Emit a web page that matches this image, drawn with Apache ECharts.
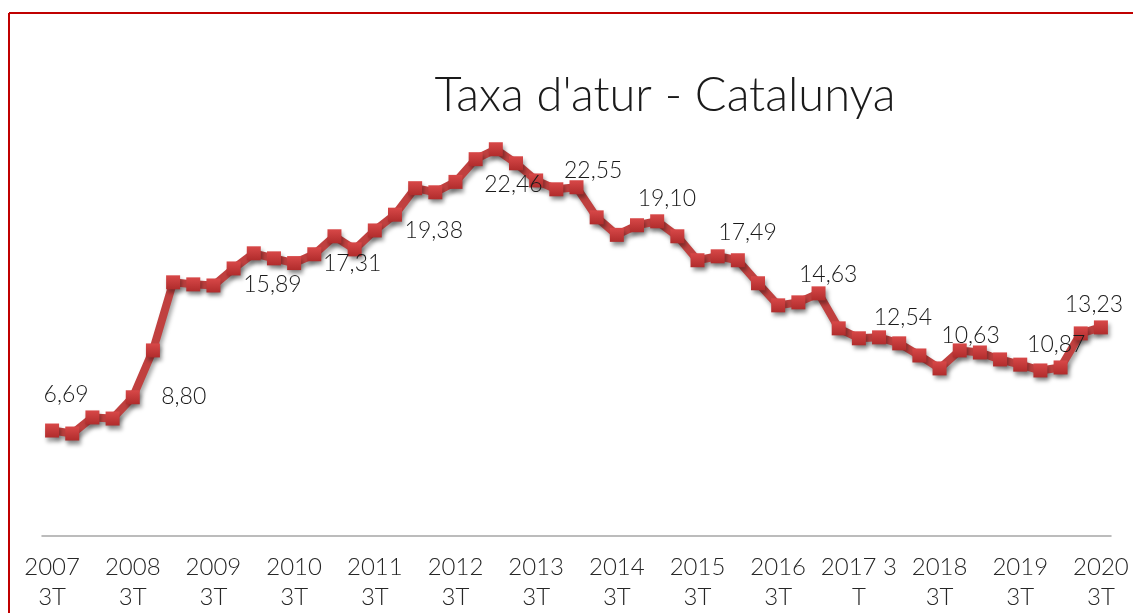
<!DOCTYPE html>
<html>
<head>
<meta charset="utf-8">
<title>Taxa d'atur - Catalunya</title>
<script src="https://cdn.jsdelivr.net/npm/echarts@6/dist/echarts.min.js"></script>
<style>
  html, body { margin: 0; padding: 0; background: #fff; }
  #chart { width: 1133px; height: 613px; }
</style>
</head>
<body>
<div id="chart"></div>
<script>
// dades: taxa d'atur trimestral, 2007 3T - 2020 3T
var years = [2007, 2008, 2009, 2010, 2011, 2012, 2013, 2014, 2015, 2016, 2017, 2018, 2019, 2020];
var tickLabels = ['2007\n3T', '2008\n3T', '2009\n3T', '2010\n3T', '2011\n3T', '2012\n3T', '2013\n3T',
                  '2014\n3T', '2015\n3T', '2016\n3T', '2017 3\nT', '2018\n3T', '2019\n3T', '2020\n3T'];
var rates = [6.69, 6.50, 7.52, 7.45, 8.80, 11.77, 16.09, 15.96, 15.89, 16.97,
             17.93, 17.61, 17.31, 17.87, 19.01, 18.18, 19.38, 20.38, 22.06, 21.80,
             22.46, 23.90, 24.53, 23.64, 22.55, 21.99, 22.12, 20.21, 19.10, 19.71,
             19.96, 19.01, 17.49, 17.74, 17.49, 16.03, 14.63, 14.82, 15.39, 13.17,
             12.54, 12.60, 12.22, 11.45, 10.63, 11.77, 11.64, 11.20, 10.87, 10.50,
             10.69, 12.85, 13.23];

// categories: un per trimestre
var categories = [];
for (var y = 0; y < years.length; y++) {
    var qs = (y === 0) ? [3, 4] : (y === years.length - 1 ? [1, 2, 3] : [1, 2, 3, 4]);
    for (var q = 0; q < qs.length; q++) {
        categories.push(years[y] + ' ' + qs[q] + 'T');
    }
}

var font = "Lato, 'DejaVu Sans Condensed', sans-serif";

// desplaçament de les etiquetes (una per any, al 3T)
var labelOffsets = [[14, -36], [51, -1], [59, -1], [58, 0], [59, 0], [58, 3], [57, -10],
                    [50, -36], [50, -28], [50, -31], [44, -21], [31, -33], [36, -20], [-7, -23]];

var seriesData = [];
for (var i = 0; i < rates.length; i++) {
    var item = { value: rates[i] };
    if (i % 4 === 0) {
        item.label = { show: true, offset: labelOffsets[i / 4] };
    }
    seriesData.push(item);
}

var myChart = echarts.init(document.getElementById('chart'));

var option = {
    animation: false,
    backgroundColor: '#fff',
    grid: { left: 42, right: 22, top: 63, bottom: 77 },
    graphic: [
        // marc vermell
        { type: 'line', shape: { x1: 9, y1: 13, x2: 1133, y2: 13 }, style: { stroke: '#c00000', lineWidth: 2 } },
        { type: 'line', shape: { x1: 9, y1: 13, x2: 9, y2: 613 }, style: { stroke: '#c00000', lineWidth: 2 } },
        {
            type: 'text',
            style: {
                x: 665, y: 96,
                text: "Taxa d'atur - Catalunya",
                fontFamily: font, fontSize: 47, fontWeight: 300,
                fill: '#1a1a1a',
                textAlign: 'center', textVerticalAlign: 'middle'
            }
        }
    ],
    xAxis: {
        type: 'category',
        data: categories,
        boundaryGap: true,
        axisLine: { lineStyle: { color: '#a6a6a6', width: 1.5 } },
        axisTick: { show: false },
        axisLabel: {
            interval: 3,
            margin: 16,
            color: '#262626',
            fontFamily: font,
            fontSize: 24,
            fontWeight: 300,
            lineHeight: 30,
            formatter: function (val, idx) {
                return tickLabels[idx / 4];
            }
        }
    },
    yAxis: {
        type: 'value',
        min: 0, max: 30,
        show: false,
        splitLine: { show: false }
    },
    series: [{
        type: 'line',
        data: seriesData,
        symbol: 'rect',
        symbolSize: 14,
        showAllSymbol: true,
        lineStyle: {
            color: '#c0403f', width: 8,
            shadowColor: 'rgba(0,0,0,0.35)', shadowBlur: 4, shadowOffsetX: 2, shadowOffsetY: 4
        },
        itemStyle: {
            color: new echarts.graphic.LinearGradient(0, 0, 0, 1, [
                { offset: 0, color: '#d84848' },
                { offset: 1, color: '#b02c2c' }
            ]),
            shadowColor: 'rgba(0,0,0,0.35)', shadowBlur: 4, shadowOffsetX: 2, shadowOffsetY: 4
        },
        label: {
            show: false,
            position: 'inside',
            color: '#1a1a1a',
            fontFamily: font,
            fontSize: 23,
            fontWeight: 300,
            formatter: function (p) {
                return p.value.toFixed(2).replace('.', ',');
            }
        },
        emphasis: { disabled: true }
    }]
};

// render
myChart.setOption(option);
</script>
</body>
</html>
